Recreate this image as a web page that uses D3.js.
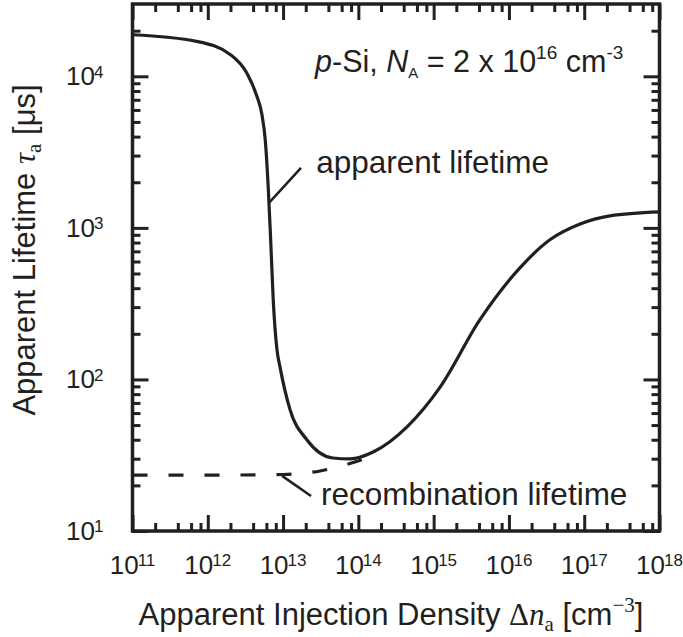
<!DOCTYPE html>
<html>
<head>
<meta charset="utf-8">
<script src="https://d3js.org/d3.v7.min.js"></script>
<style>
  body { margin: 0; background: #fff; }
  svg text { font-family: "Liberation Sans", Arial, sans-serif; fill: #231f20; }
  .math { font-family: "Liberation Serif", "Times New Roman", serif; }
</style>
</head>
<body>
<svg width="683" height="637"></svg>
<script>
// apparent lifetime vs apparent injection density (cm^-3, us)
var apparentN   = [1e11, 7.1e11, 2.0e12, 3.3e12, 4.5e12, 5.2e12, 5.8e12, 6.3e12, 6.8e12, 7.4e12, 8.3e12, 9.1e12,
                   1.24e13, 2.07e13, 4.6e13, 7.8e13, 1.57e14, 4.4e14, 1.22e15, 4.1e15, 1.4e16, 3.5e16, 8.8e16, 2.2e17, 1e18];
var apparentTau = [18800, 17000, 13900, 10500, 7360, 5700, 3800, 2000, 900, 335, 157, 121,
                   63, 40, 30.3, 29.9, 33.2, 48.5, 89, 247, 545, 834, 1060, 1200, 1275];
// recombination lifetime (dashed)
var recombN   = [1e11, 2e12, 1e13, 3.1e13, 9.9e13, 2.0e14];
var recombTau = [23.4, 23.4, 23.6, 24.9, 29.0, 32.7];

var xMajor = [1e11, 1e12, 1e13, 1e14, 1e15, 1e16, 1e17, 1e18];
var xMinorMant = [2, 4, 6, 8];
var yMajor = [1e1, 1e2, 1e3, 1e4];
var yMinorMant = [2, 3, 4, 5, 6, 7, 8, 9];

var ink = "#231f20";
var svg = d3.select("svg");
var pLeft = 132.5, pRight = 659.5, pTop = 4, pBottom = 531;

var x = d3.scaleLog().domain([1e11, 1e18]).range([pLeft, pRight]);
var y = d3.scaleLog().domain([10, 3e4]).range([pBottom, pTop]);

var xMinor = [];
xMajor.slice(0, -1).forEach(function(d) { xMinorMant.forEach(function(m) { xMinor.push(d * m); }); });
var yMinor = [];
yMajor.forEach(function(d) { yMinorMant.forEach(function(m) { if (d * m < 3e4) yMinor.push(d * m); }); });

function styleAxis(g) {
  g.select(".domain").remove();
  g.selectAll(".tick line").attr("stroke", ink).attr("stroke-width", 3);
}

// inward ticks on all four sides
svg.append("g").attr("transform", "translate(0," + pBottom + ")")
  .call(d3.axisBottom(x).tickValues(xMajor).tickSize(-16).tickFormat("")).call(styleAxis);
svg.append("g").attr("transform", "translate(0," + pBottom + ")")
  .call(d3.axisBottom(x).tickValues(xMinor).tickSize(-8).tickFormat("")).call(styleAxis);
svg.append("g").attr("transform", "translate(0," + pTop + ")")
  .call(d3.axisTop(x).tickValues(xMajor).tickSize(-16).tickFormat("")).call(styleAxis);
svg.append("g").attr("transform", "translate(0," + pTop + ")")
  .call(d3.axisTop(x).tickValues(xMinor).tickSize(-8).tickFormat("")).call(styleAxis);
svg.append("g").attr("transform", "translate(" + pLeft + ",0)")
  .call(d3.axisLeft(y).tickValues(yMajor).tickSize(-16).tickFormat("")).call(styleAxis);
svg.append("g").attr("transform", "translate(" + pLeft + ",0)")
  .call(d3.axisLeft(y).tickValues(yMinor).tickSize(-8).tickFormat("")).call(styleAxis);
svg.append("g").attr("transform", "translate(" + pRight + ",0)")
  .call(d3.axisRight(y).tickValues(yMajor).tickSize(-16).tickFormat("")).call(styleAxis);
svg.append("g").attr("transform", "translate(" + pRight + ",0)")
  .call(d3.axisRight(y).tickValues(yMinor).tickSize(-8).tickFormat("")).call(styleAxis);

// tick labels 10^n
var xl = svg.append("g").selectAll("text").data(xMajor).enter().append("text")
  .attr("x", function(d) { return x(d); })
  .attr("y", pBottom + 43)
  .attr("text-anchor", "middle")
  .style("font-size", "26px");
xl.append("tspan").text("10");
xl.append("tspan").attr("dy", "-0.45em").attr("dx", -1).style("font-size", "17px")
  .text(function(d) { return Math.round(Math.log10(d)); });

var yl = svg.append("g").selectAll("text").data(yMajor).enter().append("text")
  .attr("x", pLeft - 29)
  .attr("y", function(d) { return y(d) + 9; })
  .attr("text-anchor", "end")
  .style("font-size", "26px");
yl.append("tspan").text("10");
yl.append("tspan").attr("dy", "-0.45em").attr("dx", -1).style("font-size", "17px")
  .text(function(d) { return Math.round(Math.log10(d)); });

// curves
var apparent = apparentN.map(function(d, i) { return [d, apparentTau[i]]; });
var recomb = recombN.map(function(d, i) { return [d, recombTau[i]]; });
var line = d3.line()
  .x(function(d) { return x(d[0]); })
  .y(function(d) { return y(d[1]); })
  .curve(d3.curveMonotoneX);

svg.append("path").datum(recomb)
  .attr("fill", "none").attr("stroke", ink).attr("stroke-width", 3.2)
  .attr("stroke-dasharray", "15,21")
  .attr("d", line);
svg.append("path").datum(apparent)
  .attr("fill", "none").attr("stroke", ink).attr("stroke-width", 3.2)
  .attr("d", line);

// frame
svg.append("rect")
  .attr("x", pLeft).attr("y", pTop)
  .attr("width", pRight - pLeft).attr("height", pBottom - pTop)
  .attr("fill", "none").attr("stroke", ink).attr("stroke-width", 3.5);

// annotations
svg.append("line")
  .attr("x1", x(6.5e12)).attr("y1", y(1460))
  .attr("x2", x(1.73e13)).attr("y2", y(2490))
  .attr("stroke", ink).attr("stroke-width", 2.5);
svg.append("line")
  .attr("x1", x(9.7e12)).attr("y1", y(23.1))
  .attr("x2", x(2.35e13)).attr("y2", y(17.0))
  .attr("stroke", ink).attr("stroke-width", 2.5);

svg.append("text").attr("x", x(2.75e13)).attr("y", y(2310))
  .style("font-size", "31.5px").text("apparent lifetime");
svg.append("text").attr("x", 321).attr("y", 505)
  .style("font-size", "31.5px").text("recombination lifetime");

var lab = svg.append("text").attr("x", 315).attr("y", 72).style("font-size", "30.5px");
lab.append("tspan").style("font-style", "italic").text("p");
lab.append("tspan").text("-Si, ");
lab.append("tspan").style("font-style", "italic").text("N");
lab.append("tspan").attr("dy", 6).style("font-size", "15px").text("A");
lab.append("tspan").attr("dy", -6).text(" = 2 x 10");
lab.append("tspan").attr("dy", -13).style("font-size", "19px").text("16");
lab.append("tspan").attr("dy", 13).text(" cm");
lab.append("tspan").attr("dy", -13).style("font-size", "19px").text("-3");

// axis titles
var xt = svg.append("text").attr("x", 391).attr("y", 625)
  .attr("text-anchor", "middle").style("font-size", "31px");
xt.append("tspan").text("Apparent Injection Density ");
xt.append("tspan").attr("class", "math").text("\u0394");
xt.append("tspan").attr("class", "math").style("font-style", "italic").text("n");
xt.append("tspan").attr("class", "math").attr("dy", 6).style("font-size", "21px").text("a");
xt.append("tspan").attr("dy", -6).text(" [cm");
xt.append("tspan").attr("class", "math").attr("dy", -13).style("font-size", "21px").text("\u22123");
xt.append("tspan").attr("dy", 13).text("]");

var yt = svg.append("text")
  .attr("transform", "translate(35,250) rotate(-90)")
  .attr("text-anchor", "middle").style("font-size", "31px");
yt.append("tspan").text("Apparent Lifetime ");
yt.append("tspan").attr("class", "math").style("font-style", "italic").text("\u03C4");
yt.append("tspan").attr("class", "math").attr("dy", 6).style("font-size", "21px").text("a");
yt.append("tspan").attr("dy", -6).text(" [\u03BCs]");
</script>
</body>
</html>
